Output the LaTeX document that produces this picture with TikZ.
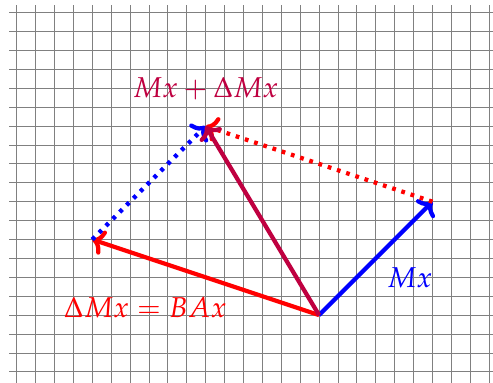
\documentclass[tikz,border=0pt]{standalone}
\usepackage{mathpazo}
\usetikzlibrary{arrows.meta}
\begin{document}
\begin{tikzpicture}[x=0.5cm,y=0.5cm,
  vec/.style={line width=3.2pt, -{To[length=9pt,width=19pt]}},
  dotvec/.style={line width=3.2pt, dash pattern=on 2.8pt off 4.5pt, -{To[length=9pt,width=19pt]}},
  lbl/.style={font=\fontsize{21.6}{26}\selectfont}]
\useasboundingbox (-16.88,-3.59) rectangle (9.20,16.67);
\clip (-16.88,-3.59) rectangle (9.20,16.67);
\draw[gray, line width=0.6pt, step=1] (-16.4,-4) grid (10,16.4);
\coordinate (O) at (0,0);
\coordinate (A) at (6,6);
\coordinate (B) at (-12,4);
\coordinate (C) at (-6,10);
\draw[vec, blue] (O) -- (A);
\draw[vec, red] (O) -- (B);
\draw[dotvec, blue] (B) -- (C);
\draw[dotvec, red] (A) -- (C);
\draw[vec, purple] (O) -- (C);
\node[lbl, text=purple] (lC) at (-6,12) {$Mx+\Delta Mx$};
\node[lbl, text=red] (lB) at (-9.2,0.38) {$\Delta Mx=BAx$};
\node[lbl, text=blue] (lA) at (4.8,1.96) {$Mx$};
\end{tikzpicture}
\end{document}
